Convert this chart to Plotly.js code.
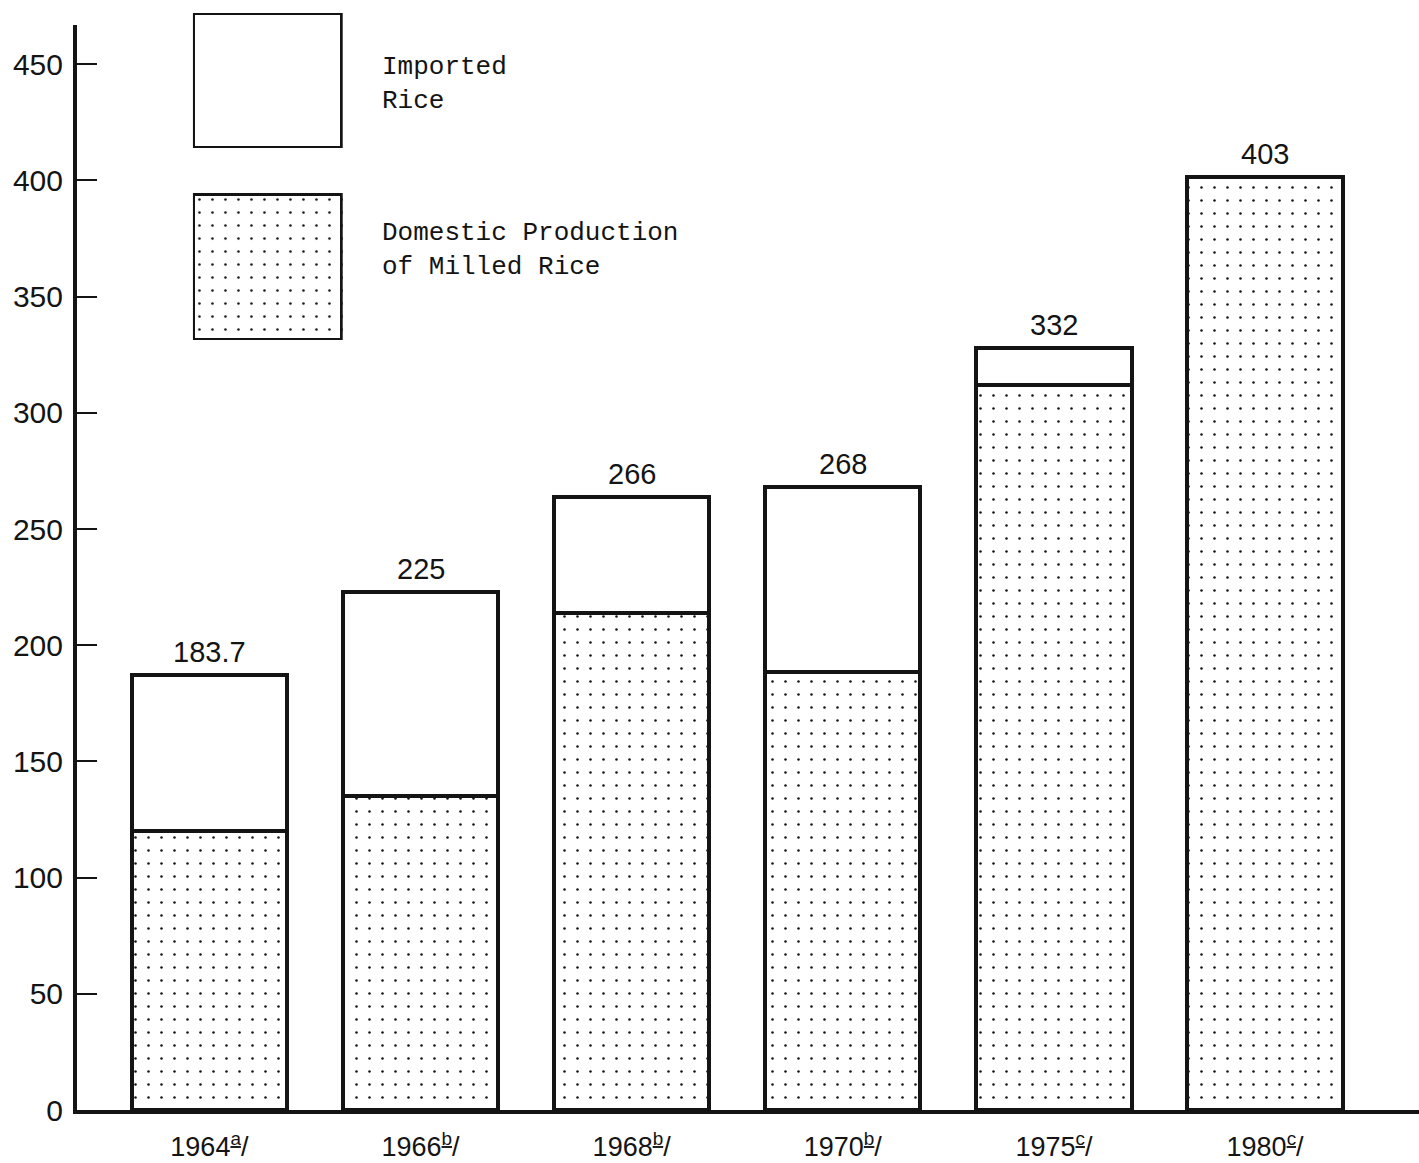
<!DOCTYPE html>
<html>
<head>
<meta charset="utf-8">
<script src="https://cdn.plot.ly/plotly-3.0.1.min.js"></script>
<style>
  html, body { margin: 0; padding: 0; background: #fff; }
  #chart { width: 1419px; height: 1163px; }
</style>
</head>
<body>
<div id="chart"></div>
<script>
// ---- data ----
const years = ['1964', '1966', '1968', '1970', '1975', '1980'];
const footnotes = ['a', 'b', 'b', 'b', 'c', 'c'];
const domestic = [120, 135, 214, 188.5, 312, 401.5];
const imported = [67, 88, 50, 79.5, 16, 0];
const totalLabels = ['183.7', '225', '266', '268', '332', '403'];
const yTicks = [0, 50, 100, 150, 200, 250, 300, 350, 400, 450];
const legendNames = ['Imported<br>Rice', 'Domestic Production<br>of Milled Rice'];

// ---- derived ----
const xPos = years.map((_, i) => i);
const totals = domestic.map((d, i) => d + imported[i]);
const tickText = years.map((y, i) => y + '<sup><u>' + footnotes[i] + '</u></sup>/');

const INK = '#141414';
const SANS = '"Liberation Sans", Arial, sans-serif';
const MONO = '"Courier New", "Liberation Mono", monospace';

const dotPattern = { shape: '.', fgcolor: INK, bgcolor: '#ffffff', size: 13, solidity: 0.03, fillmode: 'replace' };

const traces = [
  {
    type: 'bar', x: xPos, y: domestic, width: 0.735,
    marker: { color: '#ffffff', pattern: dotPattern, line: { color: INK, width: 4 } },
    showlegend: false, hoverinfo: 'skip', cliponaxis: false
  },
  {
    type: 'bar', x: xPos, y: imported, width: 0.735,
    marker: { color: '#ffffff', line: { color: INK, width: 4 } },
    showlegend: false, hoverinfo: 'skip', cliponaxis: false
  },
  // legend swatch: imported
  {
    type: 'bar', x: [0], y: [1], width: 1, xaxis: 'x2', yaxis: 'y2',
    marker: { color: '#ffffff', line: { color: INK, width: 5 } },
    showlegend: false, hoverinfo: 'skip', cliponaxis: false
  },
  // legend swatch: domestic
  {
    type: 'bar', x: [0], y: [1], width: 1, xaxis: 'x2', yaxis: 'y3',
    marker: { color: '#ffffff', pattern: dotPattern, line: { color: INK, width: 5 } },
    showlegend: false, hoverinfo: 'skip', cliponaxis: false
  }
];

const annotations = totals.map((t, i) => ({
  x: xPos[i], y: t, xref: 'x', yref: 'y', text: totalLabels[i],
  showarrow: false, yanchor: 'bottom', xanchor: 'center', yshift: 5,
  font: { family: SANS, size: 29, color: INK }
}));
annotations.push({
  xref: 'paper', yref: 'paper', x: 0.2255, y: 0.9327, xanchor: 'left', yanchor: 'middle',
  align: 'left', showarrow: false, text: legendNames[0],
  font: { family: MONO, size: 26, color: INK }
});
annotations.push({
  xref: 'paper', yref: 'paper', x: 0.2255, y: 0.7818, xanchor: 'left', yanchor: 'middle',
  align: 'left', showarrow: false, text: legendNames[1],
  font: { family: MONO, size: 26, color: INK }
});

const layout = {
  width: 1419, height: 1163,
  margin: { l: 77, r: 0, t: 10, b: 53, pad: 0 },
  paper_bgcolor: '#ffffff', plot_bgcolor: '#ffffff',
  barmode: 'stack', bargap: 0.27,
  showlegend: false,
  xaxis: {
    domain: [0, 1],
    range: [-0.627, 5.729], tickmode: 'array', tickvals: xPos, ticktext: tickText,
    showline: true, linecolor: INK, linewidth: 4, ticks: '', showgrid: false, zeroline: false,
    tickfont: { family: SANS, size: 27, color: INK }, ticklabelstandoff: 10, automargin: false,
    fixedrange: true
  },
  yaxis: {
    domain: [0, 0.98636],
    range: [0, 466.9], tickmode: 'array', tickvals: yTicks, ticktext: yTicks.map(String),
    showline: true, linecolor: INK, linewidth: 4, ticks: 'inside', ticklen: 20, tickwidth: 2,
    tickcolor: INK, showgrid: false, zeroline: false,
    tickfont: { family: SANS, size: 30, color: INK }, ticklabelstandoff: 4, automargin: false,
    fixedrange: true
  },
  xaxis2: { domain: [0.0864, 0.198], range: [-0.5, 0.5], anchor: 'y2', visible: false, fixedrange: true },
  yaxis2: { domain: [0.8745, 0.9973], range: [0, 1], anchor: 'x2', visible: false, fixedrange: true },
  yaxis3: { domain: [0.7, 0.8336], range: [0, 1], anchor: 'x2', visible: false, fixedrange: true },
  annotations: annotations
};

Plotly.newPlot('chart', traces, layout, { staticPlot: true, displayModeBar: false });
</script>
</body>
</html>
